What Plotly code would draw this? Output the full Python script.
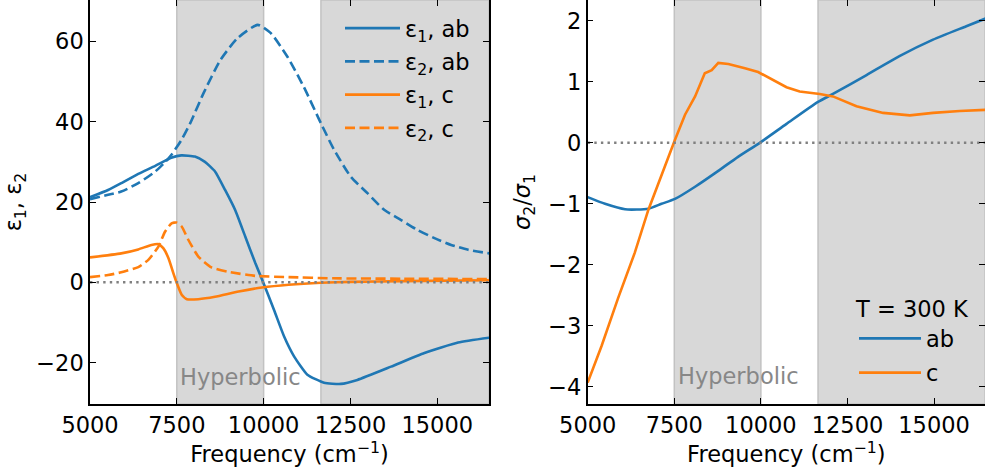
import plotly.graph_objects as go

# ---------------- data ----------------
freq_eps1_ab = [5000, 5520, 5900, 6390, 6880, 7340, 7630, 8020, 8310, 8600, 8890, 9180, 9470, 9760,
                9960, 10300, 10590, 10880, 11260, 11740, 12220, 12700, 13670, 14630, 15600, 16500]
eps1_ab = [21.2, 23.0, 24.7, 27.0, 29.0, 31.0, 31.6, 31.3, 30.0, 27.6, 23.0, 18.0, 11.4, 4.8,
           0.6, -6.9, -13.5, -18.5, -23.0, -25.0, -25.3, -24.3, -21.0, -17.6, -15.0, -13.8]

freq_eps2_ab = [5000, 5520, 5900, 6390, 6880, 7170, 7340, 7630, 7890, 8270, 8760, 9250, 9830,
                10200, 10690, 11160, 11650, 12030, 12510, 12990, 13480, 13960, 14440, 14920,
                15400, 15890, 16500]
eps2_ab = [20.7, 21.8, 22.6, 24.7, 27.6, 30.0, 31.7, 35.4, 39.7, 47.1, 55.4, 60.8, 64.1,
           62.1, 56.1, 48.6, 39.6, 33.0, 26.3, 22.2, 18.0, 15.5, 13.0, 11.0,
           9.3, 8.1, 7.2]

freq_eps1_c = [5000, 5900, 6390, 6770, 6970, 7110, 7260, 7400, 7500, 7640, 7790, 8120, 8600,
               9280, 9950, 10720, 11650, 12500, 14000, 16500]
eps1_c = [6.2, 7.2, 8.2, 9.3, 9.5, 8.5, 6.0, 2.3, -0.2, -3.1, -4.2, -4.2, -3.6,
          -2.3, -1.3, -0.6, -0.1, 0.1, 0.3, 0.5]

freq_eps2_c = [5000, 5520, 5900, 6390, 6680, 6970, 7160, 7350, 7490, 7640, 7830, 8120, 8500,
               8990, 9760, 10720, 12000, 14000, 16500]
eps2_c = [1.3, 1.8, 2.5, 3.8, 5.6, 8.9, 12.6, 14.7, 14.9, 13.9, 10.6, 6.4, 3.7,
          2.6, 1.6, 1.3, 1.0, 0.9, 0.8]

freq_ratio_ab = [5000, 5500, 6080, 6750, 7130, 7520, 8100, 8770, 9340, 9970, 10740, 11650,
                 12080, 13050, 14000, 14970, 15930, 16500]
ratio_ab = [-0.89, -1.0, -1.09, -1.08, -1.0, -0.92, -0.72, -0.46, -0.23, 0.0, 0.31, 0.67,
            0.80, 1.11, 1.42, 1.69, 1.91, 2.04]

freq_ratio_c = [5000, 5400, 5880, 6360, 6750, 7040, 7320, 7520, 7810, 8100, 8380, 8580, 8770,
                9060, 9540, 9920, 10740, 11120, 11700, 12080, 12760, 13530, 14300, 14970,
                15740, 16500]
ratio_c = [-3.93, -3.33, -2.54, -1.80, -1.10, -0.66, -0.22, 0.05, 0.46, 0.76, 1.14, 1.19, 1.31,
           1.29, 1.22, 1.16, 0.91, 0.84, 0.80, 0.76, 0.60, 0.49, 0.45, 0.49, 0.52, 0.54]

hyperbolic_bands = [(7500, 10000), (11650, 16500)]
x_ticks = [5000, 7500, 10000, 12500, 15000]
left_y_ticks = [-20, 0, 20, 40, 60]
right_y_ticks = [-4, -3, -2, -1, 0, 1, 2]
x_limits_left = [5000, 16490]
x_limits_right = [5000, 16470]
y_limits_left = [-30.3, 70.3]
y_limits_right = [-4.28, 2.34]

# ---------------- styling ----------------
BLUE = "#1f77b4"
ORANGE = "#ff7f0e"
FONT = "DejaVu Sans"
FS = 22.5
W, H = 985, 473

fig = go.Figure()

lw = 2.6
dash = "10px,4.5px"

fig.add_trace(go.Scatter(x=freq_eps1_ab, y=eps1_ab, mode="lines", name="ε<sub>1</sub>, ab",
                         line=dict(color=BLUE, width=lw, shape="spline", smoothing=0.5),
                         xaxis="x", yaxis="y", legend="legend", legendgroup="a"))
fig.add_trace(go.Scatter(x=freq_eps2_ab, y=eps2_ab, mode="lines", name="ε<sub>2</sub>, ab",
                         line=dict(color=BLUE, width=lw, dash=dash, shape="spline", smoothing=0.6),
                         xaxis="x", yaxis="y", legend="legend", legendgroup="b"))
fig.add_trace(go.Scatter(x=freq_eps1_c, y=eps1_c, mode="lines", name="ε<sub>1</sub>, c",
                         line=dict(color=ORANGE, width=lw, shape="spline", smoothing=0.5),
                         xaxis="x", yaxis="y", legend="legend", legendgroup="c"))
fig.add_trace(go.Scatter(x=freq_eps2_c, y=eps2_c, mode="lines", name="ε<sub>2</sub>, c",
                         line=dict(color=ORANGE, width=lw, dash=dash, shape="spline", smoothing=0.5),
                         xaxis="x", yaxis="y", legend="legend", legendgroup="d"))

fig.add_trace(go.Scatter(x=freq_ratio_ab, y=ratio_ab, mode="lines", name="ab",
                         line=dict(color=BLUE, width=lw, shape="spline", smoothing=0.6),
                         xaxis="x2", yaxis="y2", legend="legend2", legendgroup="e"))
fig.add_trace(go.Scatter(x=freq_ratio_c, y=ratio_c, mode="lines", name="c",
                         line=dict(color=ORANGE, width=lw),
                         xaxis="x2", yaxis="y2", legend="legend2", legendgroup="f"))

# zero reference lines (dotted gray)
for xa, ya, lim in (("x", "y", x_limits_left), ("x2", "y2", x_limits_right)):
    fig.add_trace(go.Scatter(x=lim, y=[0, 0], mode="lines", showlegend=False, hoverinfo="skip",
                             line=dict(color="#808080", width=2.4, dash="2.4px,4.2px"),
                             xaxis=xa, yaxis=ya))

# shaded hyperbolic bands
for xr, yr, lim in (("x", "y", x_limits_left), ("x2", "y2", x_limits_right)):
    for a, b in hyperbolic_bands:
        fig.add_shape(type="rect", xref=xr, yref=f"{yr} domain", x0=a, x1=min(b, lim[1]),
                      y0=0, y1=1, fillcolor="#d8d8d8", line=dict(color="#c2c2c2", width=1.5),
                      layer="below")

# "Hyperbolic" labels
fig.add_annotation(x=7540, y=-23.5, xref="x", yref="y", text="Hyperbolic", showarrow=False,
                   xanchor="left", yanchor="middle", font=dict(family=FONT, size=FS, color="#878787"))
fig.add_annotation(x=7560, y=-3.82, xref="x2", yref="y2", text="Hyperbolic", showarrow=False,
                   xanchor="left", yanchor="middle", font=dict(family=FONT, size=FS, color="#878787"))

axis_common = dict(showgrid=False, zeroline=False, showline=True, linecolor="black", linewidth=1.5,
                   ticks="inside", ticklen=6, tickwidth=1.3, tickcolor="black", mirror="ticks",
                   automargin=False,
                   tickfont=dict(family=FONT, size=FS, color="black"))

fig.update_layout(
    width=W, height=H,
    margin=dict(l=0, r=0, t=0, b=69),
    paper_bgcolor="white", plot_bgcolor="white",
    font=dict(family=FONT, size=FS, color="black"),
    xaxis=dict(domain=[90 / W, 489 / W], range=x_limits_left, tickvals=x_ticks, tickformat="d",
               title=dict(text="Frequency (cm<sup>−1</sup>)", standoff=4,
                          font=dict(family=FONT, size=FS)),
               anchor="y", **axis_common),
    yaxis=dict(domain=[0, 1], range=y_limits_left, tickvals=left_y_ticks,
               title=dict(text="ε<sub>1</sub>, ε<sub>2</sub>", standoff=8,
                          font=dict(family=FONT, size=FS)),
               anchor="x", **axis_common),
    xaxis2=dict(domain=[587.7 / W, 1.0], range=x_limits_right, tickvals=x_ticks, tickformat="d",
                title=dict(text="Frequency (cm<sup>−1</sup>)", standoff=4,
                           font=dict(family=FONT, size=FS)),
                anchor="y2", **axis_common),
    yaxis2=dict(domain=[0, 1], range=y_limits_right, tickvals=right_y_ticks,
                title=dict(text="<i>σ</i><sub>2</sub>/<i>σ</i><sub>1</sub>", standoff=11,
                           font=dict(family=FONT, size=FS)),
                anchor="x2", **axis_common),
    legend=dict(x=340 / W, y=1 - 7 / 404, xanchor="left", yanchor="top",
                bgcolor="rgba(0,0,0,0)", borderwidth=0, traceorder="grouped", tracegroupgap=1,
                font=dict(family=FONT, size=FS, color="black"), itemwidth=55),
    legend2=dict(x=854 / W, y=1 - 288 / 404, xanchor="left", yanchor="top",
                 bgcolor="rgba(0,0,0,0)", borderwidth=0, traceorder="grouped", tracegroupgap=2,
                 title=dict(text="T = 300 K", side="top center", font=dict(family=FONT, size=FS)),
                 font=dict(family=FONT, size=FS, color="black"), itemwidth=62),
    showlegend=True,
)

fig.write_html("out.html", config={"displayModeBar": False},
               post_script="document.body.style.margin='0px';")
